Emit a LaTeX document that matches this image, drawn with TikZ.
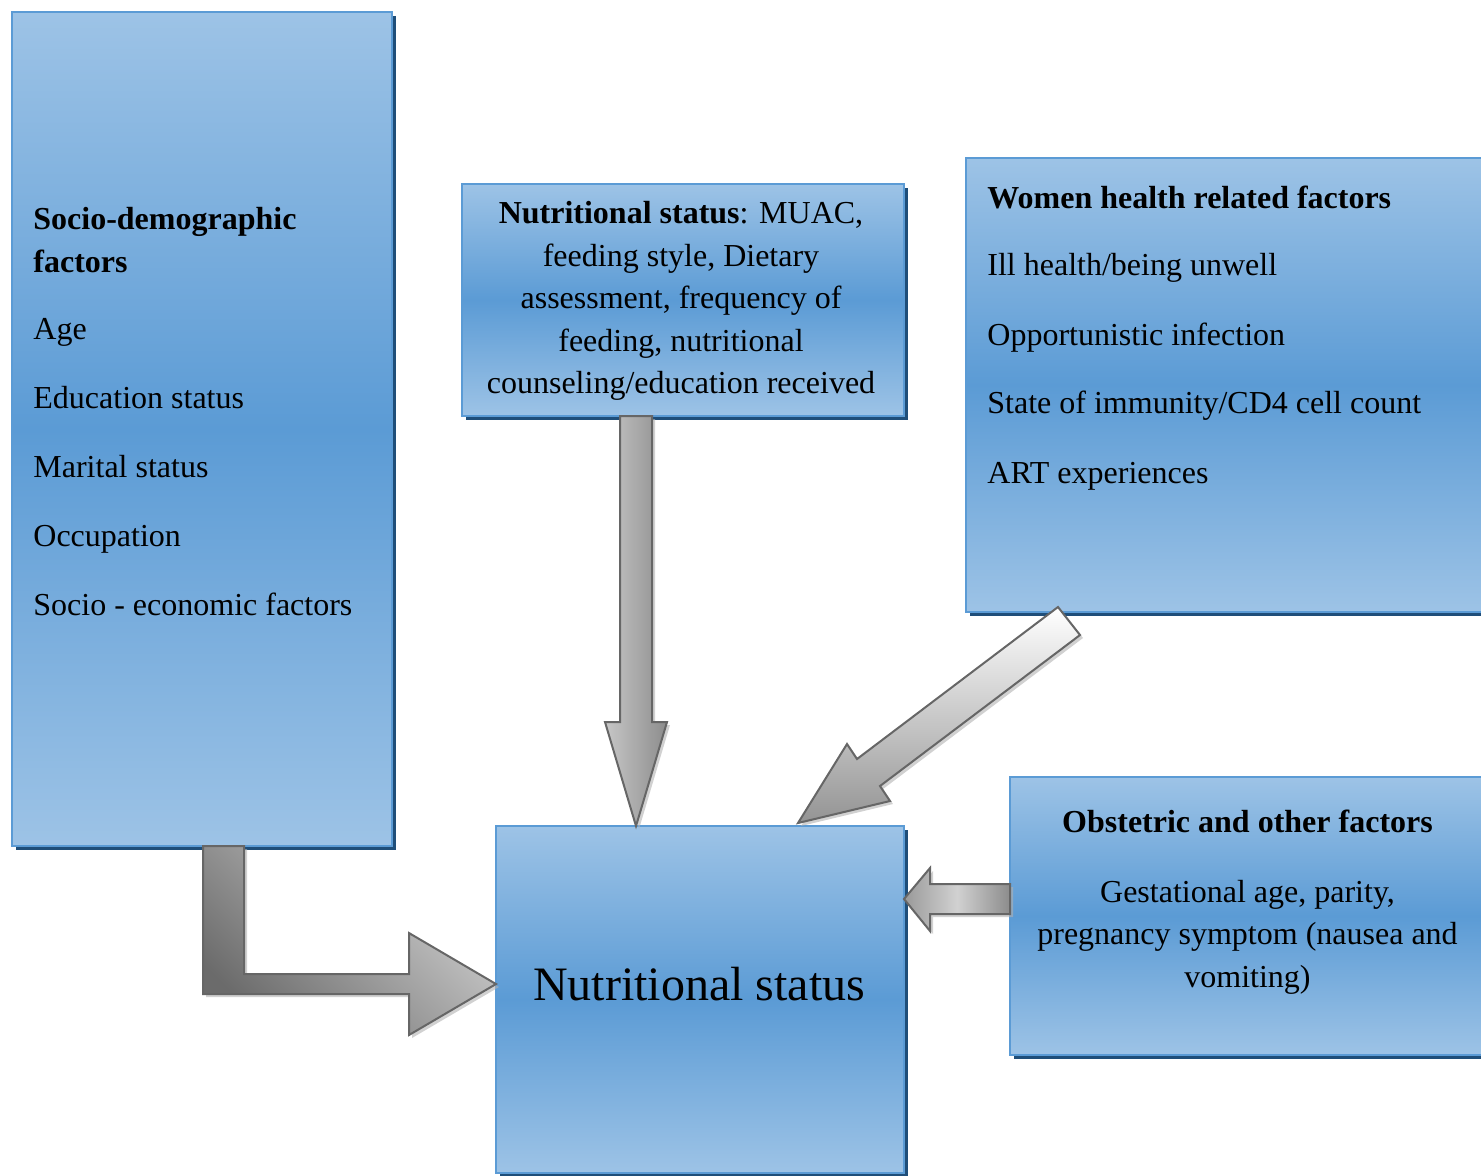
\documentclass[tikz,border=0pt]{standalone}
\usepackage{fontspec}
\setmainfont{Liberation Serif}
\usetikzlibrary{calc,shadows}
\definecolor{boxlight}{RGB}{157,195,230}
\definecolor{boxmid}{RGB}{91,155,213}
\definecolor{boxline}{RGB}{91,155,213}
\definecolor{boxshadow}{RGB}{31,78,121}
\definecolor{arrowline}{RGB}{102,102,102}

\begin{document}
\begin{tikzpicture}[x=0.5pt, y=-0.5pt,
   factorbox/.style={rectangle, draw=boxline, line width=1pt, inner sep=0pt, outer sep=0pt,
      top color=boxlight, bottom color=boxlight, middle color=boxmid,
      drop shadow={shadow xshift=1.75pt, shadow yshift=-1.75pt, fill=boxshadow, opacity=1}},
   blockarrow/.style={draw=arrowline, line width=1pt, line join=miter,
      drop shadow={shadow xshift=1.5pt, shadow yshift=-1.5pt, fill=black!30, opacity=0.6}},
   txt/.style={inner sep=0pt, font=\fontsize{16}{21.25}\selectfont}]
   \useasboundingbox (0,0) rectangle (1481,1175);
   \clip (0,0) rectangle (1481,1175);

   % the boxes
   \node[factorbox, minimum width=190pt, minimum height=417pt] (sd) at (202,429) {};
   \node[factorbox, minimum width=221pt, minimum height=116pt] (nut) at (683,300) {};
   \node[factorbox, minimum width=264.5pt, minimum height=227pt] (wh) at (1230.5,385) {};
   \node[factorbox, minimum width=242.5pt, minimum height=139pt] (ob) at (1252.5,916) {};
   \node[factorbox, minimum width=204pt, minimum height=173.5pt] (ns) at (700,999.5) {};

   % socio-demographic
   \node[txt, anchor=base west] (sdhead) at (33,229) {\textbf{Socio-demographic}};
   \node[txt, anchor=base west] (sdhead2) at (33,272) {\textbf{factors}};
   \node[txt, anchor=base west] (sdage) at (33,339) {Age};
   \node[txt, anchor=base west] (sdedu) at (33,408) {Education status};
   \node[txt, anchor=base west] (sdmar) at (33,477) {Marital status};
   \node[txt, anchor=base west] (sdocc) at (33,546) {Occupation};
   \node[txt, anchor=base west] (sdsoc) at (33,615) {Socio - economic factors};

   % nutritional assessment
   \node[txt, anchor=base] (nut1) at (681,223) {\textbf{Nutritional status}: MUAC,};
   \node[txt, anchor=base] (nut2) at (681,266) {feeding style, Dietary};
   \node[txt, anchor=base] (nut3) at (681,308) {assessment, frequency of};
   \node[txt, anchor=base] (nut4) at (681,351) {feeding, nutritional};
   \node[txt, anchor=base] (nut5) at (681,393) {counseling/education received};

   % women health
   \node[txt, anchor=base west] (whhead) at (987,208) {\textbf{Women health related factors}};
   \node[txt, anchor=base west] (whill) at (987,275) {Ill health/being unwell};
   \node[txt, anchor=base west] (whopp) at (987,345) {Opportunistic infection};
   \node[txt, anchor=base west] (whimm) at (987,413) {State of immunity/CD4 cell count};
   \node[txt, anchor=base west] (whart) at (987,483) {ART experiences};

   % obstetric
   \node[txt, anchor=base] (obhead) at (1247.5,832) {\textbf{Obstetric and other factors}};
   \node[txt, anchor=base] (ob1) at (1247.5,902) {Gestational age, parity,};
   \node[txt, anchor=base] (ob2) at (1247.5,944.5) {pregnancy symptom (nausea and};
   \node[txt, anchor=base] (ob3) at (1247.5,987) {vomiting)};

   \node[inner sep=0pt, anchor=base, font=\fontsize{24}{28}\selectfont] (nstext) at (699,1000) {Nutritional status};

   % arrows
   \coordinate (etail) at ($(sd.south)+(1,0)$);
   \coordinate (etip) at ($(ns.west)+(0,-15.5)$);
   \draw[blockarrow, top color=black!18, bottom color=black!58, shading angle=-45]
      (etail) -- ++(41,0) -- ++(0,128) -- ($(etip)+(-87,-10)$) -- ($(etip)+(-87,-51)$)
      -- (etip) -- ($(etip)+(-87,51)$) -- ($(etip)+(-87,10)$) -- ($(etail)+(0,148)$) -- cycle;

   \coordinate (dtail) at ($(nut.south)+(-47,0)$);
   \coordinate (dtip) at (dtail |- ns.north);
   \draw[blockarrow, left color=black!22, right color=black!45]
      ($(dtail)+(-16,0)$) -- ($(dtail)+(16,0)$) -- ($(dtip)+(16,-104)$) -- ($(dtip)+(31,-104)$)
      -- (dtip) -- ($(dtip)+(-31,-104)$) -- ($(dtip)+(-16,-104)$) -- cycle;

   \coordinate (wtail) at ($(wh.south)+(-161.5,9)$);
   \coordinate (wtip) at ($(ns.north)+(98,-3)$);
   \draw[blockarrow, top color=white, bottom color=black!42]
      ($(wtail)+(-11,-14)$) -- ($(wtip)+(59,-64)$) -- ($(wtip)+(49,-79)$) -- (wtip)
      -- ($(wtip)+(92,-22)$) -- ($(wtip)+(82,-37)$) -- ($(wtail)+(11,14)$) -- cycle;

   \coordinate (otail) at ($(ob.west)+(0,-17)$);
   \coordinate (otip) at (ns.east |- otail);
   \draw[blockarrow, left color=black!40, right color=black!45, middle color=black!18]
      ($(otail)+(0,-15)$) -- ($(otip)+(26,-15)$) -- ($(otip)+(26,-31)$) -- (otip)
      -- ($(otip)+(26,32)$) -- ($(otip)+(26,15)$) -- ($(otail)+(0,15)$) -- cycle;

\end{tikzpicture}
\end{document}
